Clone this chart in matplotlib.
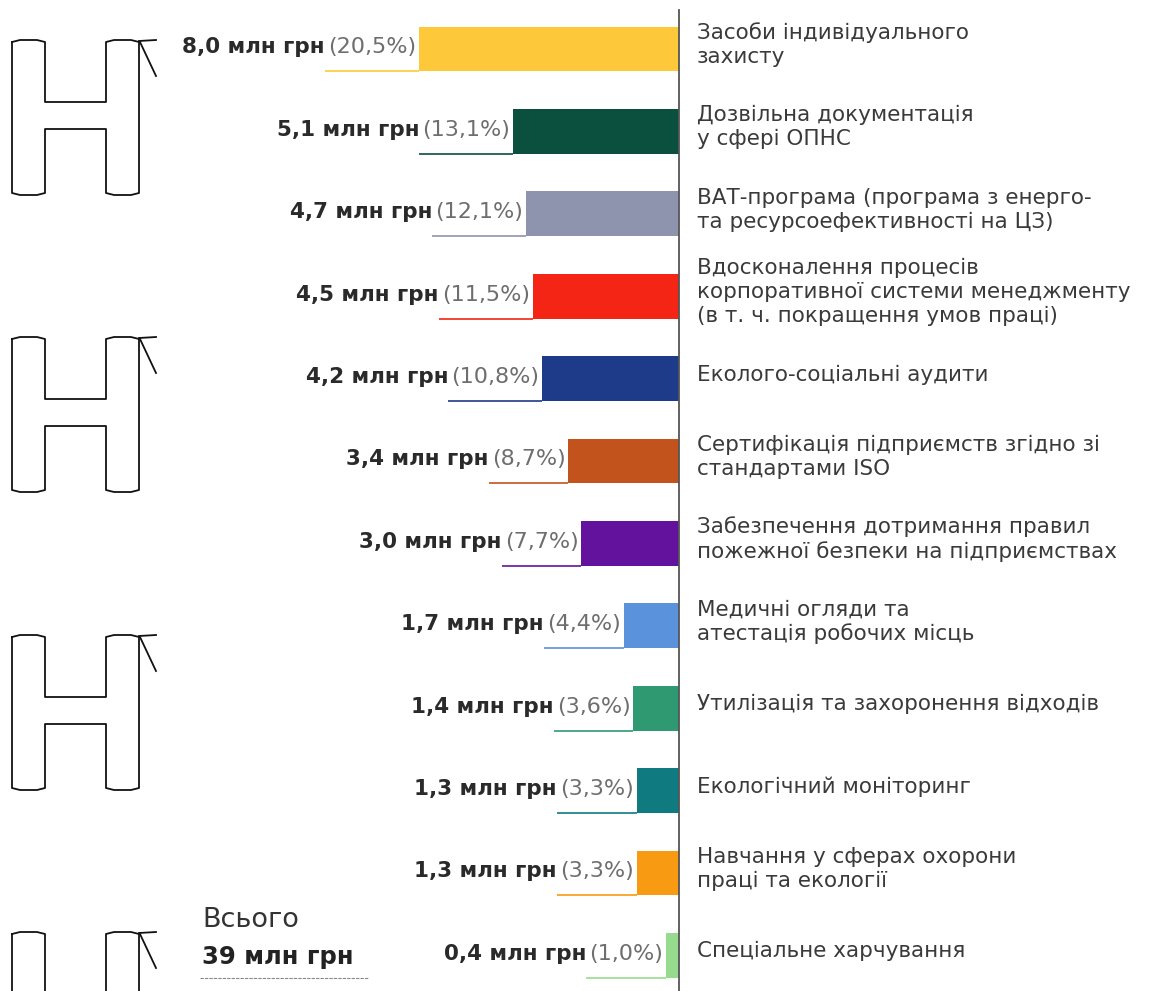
import numpy as np
import matplotlib.pyplot as plt

plt.rcParams['font.family'] = ['DejaVu Sans']

values = [8.0, 5.1, 4.7, 4.5, 4.2, 3.4, 3.0, 1.7, 1.4, 1.3, 1.3, 0.4]
value_labels = ["8,0", "5,1", "4,7", "4,5", "4,2", "3,4", "3,0", "1,7", "1,4", "1,3", "1,3", "0,4"]
pct_labels = ["20,5", "13,1", "12,1", "11,5", "10,8", "8,7", "7,7", "4,4", "3,6", "3,3", "3,3", "1,0"]
categories = [
    "Засоби індивідуального\nзахисту",
    "Дозвільна документація\nу сфері ОПНС",
    "ВАТ-програма (програма з енерго-\nта ресурсоефективності на ЦЗ)",
    "Вдосконалення процесів\nкорпоративної системи менеджменту\n(в т. ч. покращення умов праці)",
    "Еколого-соціальні аудити",
    "Сертифікація підприємств згідно зі\nстандартами ISO",
    "Забезпечення дотримання правил\nпожежної безпеки на підприємствах",
    "Медичні огляди та\nатестація робочих місць",
    "Утилізація та захоронення відходів",
    "Екологічний моніторинг",
    "Навчання у сферах охорони\nпраці та екології",
    "Спеціальне харчування",
]
colors = ["#FDC93A", "#0B4F3E", "#8E93AE", "#F52516", "#1E3B8A", "#C3531C",
          "#63129E", "#5A92DB", "#2F9A71", "#0F7A7F", "#F89B12", "#97DB8E"]
total_label = "39 млн грн"

W, H = 1154, 991
fig = plt.figure(figsize=(W / 100, H / 100), dpi=100)

# pixel overlay for decorations
pax = fig.add_axes([0, 0, 1, 1])
pax.set_xlim(0, W)
pax.set_ylim(H, 0)
pax.axis("off")

ax = fig.add_axes([0, 0, 1, 1])
ax.patch.set_alpha(0)
ppu = 32.5          # pixels per млн грн
x0 = 679            # pixel position of the baseline
row0, step = 49, 82.4
ax.set_xlim(-x0 / ppu, (W - x0) / ppu)
ax.set_ylim((H - row0) / step, -row0 / step)
ax.axis("off")

y = np.arange(len(values))
vals = np.array(values)
ax.barh(y, -vals, height=0.546, color=colors, zorder=2)
ax.axvline(0, ymin=0, ymax=1 - 10 / H, color="#555555", lw=1.3, zorder=3)

fig.canvas.draw()
r = fig.canvas.get_renderer()
inv = ax.transData.inverted()
for i, v in enumerate(values):
    t = ax.text(-v - 3 / ppu, i - 0.02, f"({pct_labels[i]}%)", ha="right", va="center",
                fontsize=16, color="#6e6e6e")
    bb = t.get_window_extent(r)
    left = inv.transform((bb.x0, 0))[0]
    ax.text(left - 3 / ppu, i - 0.02, f"{value_labels[i]} млн грн", ha="right", va="center",
            fontsize=15.5, fontweight="bold", color="#2a2a2a")
    ax.plot([left - 3 / ppu, -v], [i + 0.273, i + 0.273], color=colors[i], lw=1.2,
            zorder=1, solid_capstyle="butt")
    ax.text(18 / ppu, i - 0.05, categories[i], ha="left", va="center", fontsize=15.5,
            color="#3a3a3a", linespacing=1.25)

# total
pax.text(202, 920, "Всього", ha="left", va="center", fontsize=19.5, color="#333333")
pax.text(202, 957, total_label, ha="left", va="center", fontsize=17.5,
         fontweight="bold", color="#222222")
pax.plot([200, 368], [978, 978], color="#888888", lw=0.8, ls=(0, (3, 1)))

# decorative outline glyphs on the left
def h_glyph(top):
    L1, L2, R1, R2 = 12, 45, 106, 139
    hgt = 155
    c1, c2 = top + 62, top + 89
    b = top + hgt
    pts = [(L1, top + 2), (L1 + 8, top), (L2 - 8, top), (L2, top + 2),
           (L2, c1), (R1, c1),
           (R1, top + 2), (R1 + 8, top), (R2 - 8, top), (R2, top + 2),
           (R2, b - 2), (R2 - 8, b), (R1 + 8, b), (R1, b - 2),
           (R1, c2), (L2, c2),
           (L2, b - 2), (L2 - 8, b), (L1 + 8, b), (L1, b - 2), (L1, top + 2)]
    xs, ys = zip(*pts)
    pax.plot(xs, ys, color="#111111", lw=1.3)
    pax.plot([R2, 156], [top + 1, top], color="#111111", lw=1.3)
    pax.plot([R2 + 1, 156], [top + 2, top + 36], color="#111111", lw=1.3)

for top in [40, 337, 635, 932]:
    h_glyph(top)

fig.savefig("out.png", dpi=100, facecolor="white")
